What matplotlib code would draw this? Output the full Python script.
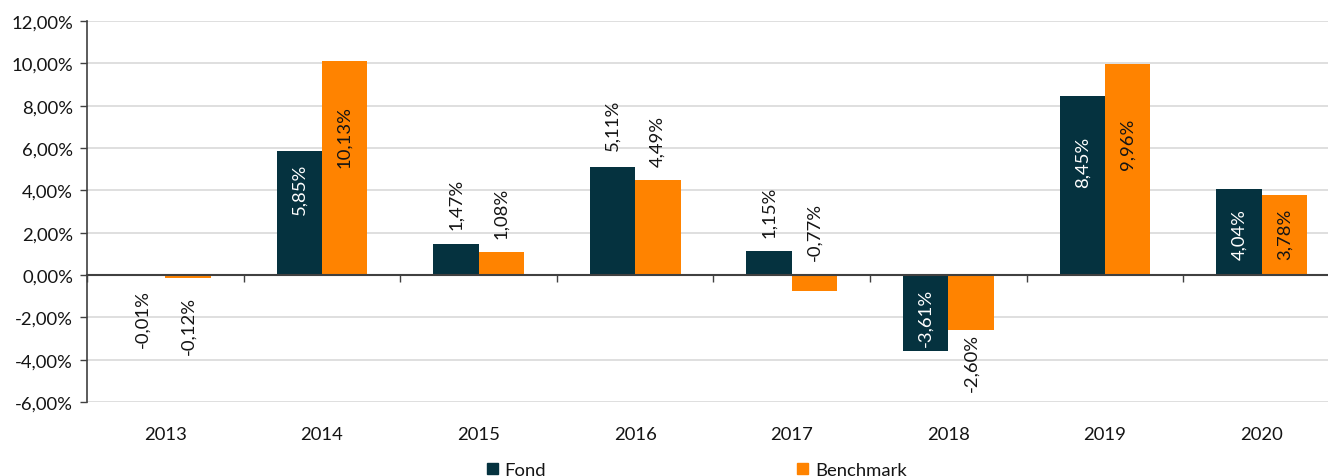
import matplotlib.pyplot as plt
from matplotlib.patches import Patch
from matplotlib.ticker import FuncFormatter
import numpy as np

years = ['2013', '2014', '2015', '2016', '2017', '2018', '2019', '2020']
fond = [-0.01, 5.85, 1.47, 5.11, 1.15, -3.61, 8.45, 4.04]
benchmark = [-0.12, 10.13, 1.08, 4.49, -0.77, -2.60, 9.96, 3.78]

# where the rotated value labels sit (centre, in % units) as in the original
label_y_fond = [-2.05, 4.11, 3.38, 7.11, 3.02, -1.98, 5.39, 1.96]
label_y_bench = [-2.34, 6.57, 2.98, 6.35, 2.10, -4.11, 6.24, 1.96]
inside_fond = [False, True, False, False, False, True, True, True]

c_fond = '#05323f'
c_bench = '#ff8300'
c_text = '#141414'

plt.rcParams['font.family'] = ['Lato', 'DejaVu Sans']

W, H = 1328, 477
fig = plt.figure(figsize=(W / 100, H / 100), dpi=100)
ax = fig.add_axes([87 / W, 1 - 403 / H, (1340 - 87) / W, (403 - 22) / H])

x = np.arange(len(years))
bw = 0.29
ax.bar(x - bw / 2, fond, bw, color=c_fond, zorder=3)
ax.bar(x + bw / 2, benchmark, bw, color=c_bench, zorder=3)

for i in range(len(years)):
    ax.text(x[i] - bw / 2, label_y_fond[i], f'{fond[i]:.2f}%'.replace('.', ','),
            rotation=90, ha='center', va='center', fontsize=13.3,
            color='white' if inside_fond[i] else c_text, zorder=4)
    ax.text(x[i] + bw / 2, label_y_bench[i], f'{benchmark[i]:.2f}%'.replace('.', ','),
            rotation=90, ha='center', va='center', fontsize=13.3,
            color=c_text, zorder=4)

ax.set_xlim(-0.5, len(years) - 0.5)
ax.set_ylim(-6, 12)
ax.set_yticks(np.arange(-6, 13, 2))
ax.yaxis.set_major_formatter(FuncFormatter(lambda v, p: f'{v:.2f}%'.replace('.', ',')))
ax.yaxis.grid(True, color='#d9d9d9', linewidth=1.2, zorder=0)
ax.tick_params(axis='y', length=5, width=1, color='#404040', labelsize=13.3,
               labelcolor=c_text, pad=5)

ax.set_xticks(x)
ax.set_xticklabels(years)
ax.tick_params(axis='x', length=0, labelsize=13.3, labelcolor=c_text, pad=17)

for s in ['top', 'right', 'bottom']:
    ax.spines[s].set_visible(False)
ax.spines['left'].set_color('#404040')
ax.spines['left'].set_linewidth(1.2)

# zero line with category separators
zero = ax.secondary_xaxis(1 / 3)
zero.set_xticks(np.arange(-0.5, len(years), 1.0))
zero.set_xticklabels([])
zero.tick_params(length=5, width=1, color='#404040', direction='out')
zero.spines['bottom'].set_color('#404040')
zero.spines['bottom'].set_linewidth(1.5)
zero.set_zorder(5)

handles = [Patch(color=c_fond), Patch(color=c_bench)]
fig.legend(handles, ['Fond', 'Benchmark'], loc='center left',
           bbox_to_anchor=(487 / W, 1 - 471 / H), ncol=2, frameon=False,
           fontsize=13.3, handlelength=0.6, handleheight=0.6, handletextpad=0.35,
           columnspacing=13.6, borderpad=0, borderaxespad=0, labelcolor=c_text)

fig.savefig('out.png', dpi=100)
